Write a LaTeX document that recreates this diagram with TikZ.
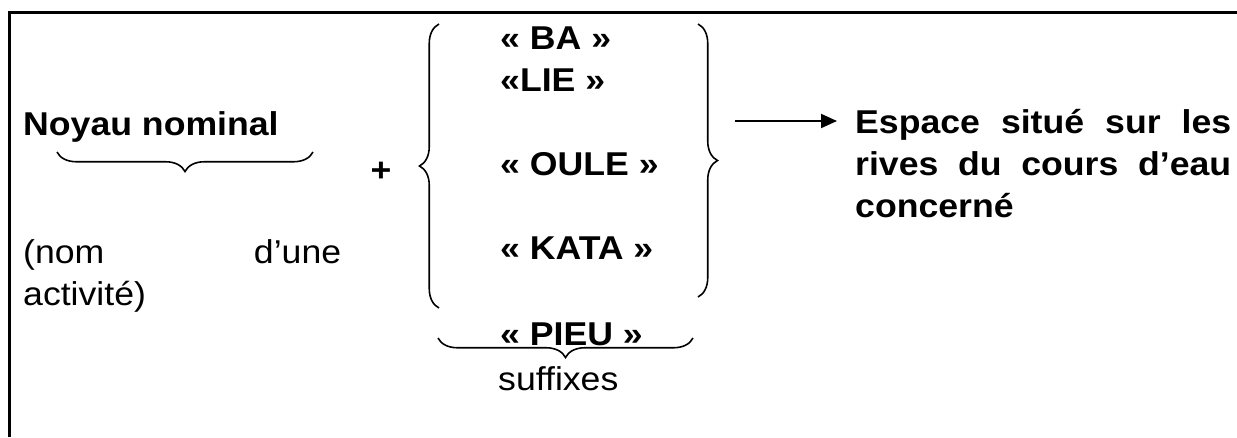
\documentclass[tikz,border=0pt]{standalone}
\usepackage{fontspec}
\setmainfont{Liberation Sans}[FakeStretch=1.08]
\usetikzlibrary{decorations.pathreplacing}
\usetikzlibrary{arrows.meta}

\tikzset{
  texte/.style={inner sep=0pt, font=\fontsize{33}{42}\selectfont},
  gras/.style={inner sep=0pt, font=\fontsize{33}{42}\selectfont\bfseries},
  accolade/.style={decorate, decoration={brace, amplitude=19.5pt}, line width=1.6pt},
}

\begin{document}
\begin{tikzpicture}[x=1pt,y=-1pt]
			\useasboundingbox (0,0) rectangle (1237,437);
			
			%Cadre
			\draw [line width=2.5pt] (9.5,437) -- (9.5,12.5) -- (1237,12.5) ;
			
			% Text Node
			\node (noyau) [gras, anchor=base west] at (23,135) {Noyau nominal};
			% Text Node
			\node (nom) [texte, anchor=base west, text width=318pt, align=left] at (23,263) {(nom\hfill d’une\\activité)};
			% Text Node
			\node (plus) [gras, anchor=base] at (381,181) {+};
			
			% Text Node
			\node (ba) [gras, anchor=base west] at (500,49) {«~BA~»};
			% Text Node
			\node (lie) [gras, anchor=base west] at (500,91) {«LIE~»};
			% Text Node
			\node (oule) [gras, anchor=base west] at (500,175) {«~OULE~»};
			% Text Node
			\node (kata) [gras, anchor=base west] at (500,259) {«~KATA~»};
			% Text Node
			\node (pieu) [gras, anchor=base west] at (500,345) {«~PIEU~»};
			% Text Node
			\node (suffixes) [texte, anchor=base west] at (498,390) {suffixes};
			
			% Text Node
			\node (espace) [gras, anchor=base west, text width=376pt, align=justify] at (855,133) {Espace situé sur les rives du cours d’eau concerné};
			
			%Accolades
			\draw [accolade] (313,152) -- (57,152) ;
			\draw [accolade] (439,308) -- (439,24) ;
			\draw [accolade] (698,24) -- (698,297) ;
			\draw [accolade] (693,338) -- (438,338) ;
			
			%Fleche
			\coordinate (fleche) at (735,121);
			\draw [line width=2pt, -{Triangle[length=16pt,width=14pt]}, shorten >=18pt] (fleche) -- (fleche -| espace.west) ;
\end{tikzpicture}
\end{document}
